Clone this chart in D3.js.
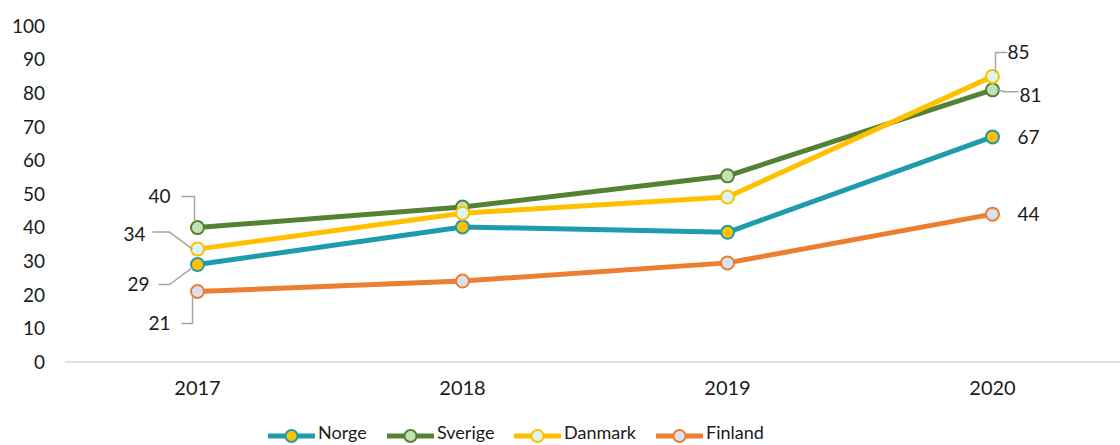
<!DOCTYPE html>
<html>
<head>
<meta charset="utf-8">
<script src="https://cdn.jsdelivr.net/npm/d3@7"></script>
<style>
  body { margin: 0; background: #fff; }
  svg { font-family: "Lato", "DejaVu Sans", sans-serif; }
</style>
</head>
<body>
<div id="chart"></div>
<script>
// data
var years = ["2017", "2018", "2019", "2020"];
var yTicks = [0, 10, 20, 30, 40, 50, 60, 70, 80, 90, 100];
var seriesNames = ["Norge", "Sverige", "Danmark", "Finland"];
var norge = [29, 40.2, 38.6, 67];
var sverige = [40, 46.1, 55.4, 81];
var danmark = [33.6, 44.3, 49.1, 85];
var finland = [21, 24.1, 29.5, 44];

var lineColors = ["#1f9bae", "#548235", "#ffc000", "#ed7d31"];
var dotColors = ["#ffc000", "#c5e0b4", "#ddf3f8", "#d9e1f2"];

var allSeries = [norge, sverige, danmark, finland];

var width = 1120, height = 445;
var svg = d3.select("#chart").append("svg").attr("width", width).attr("height", height);

var x = d3.scaleBand().domain(years).range([65, 1125]);
var y = d3.scaleLinear().domain([0, 100]).range([362, 26]);

// y tick labels
svg.selectAll(".ytick").data(yTicks).enter().append("text")
    .attr("x", 45)
    .attr("y", function (d) { return y(d); })
    .attr("dy", "0.36em")
    .attr("text-anchor", "end")
    .style("font-size", "19px")
    .style("fill", "#1a1a1a")
    .text(function (d) { return d; });

// baseline
svg.append("line")
    .attr("x1", 65).attr("x2", 1120)
    .attr("y1", y(0)).attr("y2", y(0))
    .style("stroke", "#d9d9d9")
    .style("stroke-width", 1.5);

// x labels
svg.selectAll(".xtick").data(years).enter().append("text")
    .attr("x", function (d) { return x(d) + x.bandwidth() / 2; })
    .attr("y", 395)
    .attr("text-anchor", "middle")
    .style("font-size", "20px")
    .style("fill", "#1a1a1a")
    .text(function (d) { return d; });

var cx = function (i) { return x(years[i]) + x.bandwidth() / 2; };

var line = d3.line()
    .x(function (d, i) { return cx(i); })
    .y(function (d) { return y(d); });

// lines then markers
var g = svg.selectAll(".series").data(allSeries).enter().append("g");

g.append("path")
    .attr("d", function (d) { return line(d); })
    .style("fill", "none")
    .style("stroke", function (d, i) { return lineColors[i]; })
    .style("stroke-width", 5)
    .style("stroke-linejoin", "round");

g.each(function (d, si) {
    d3.select(this).selectAll("circle").data(d).enter().append("circle")
        .attr("cx", function (v, i) { return cx(i); })
        .attr("cy", function (v) { return y(v); })
        .attr("r", 6.5)
        .style("fill", dotColors[si])
        .style("stroke", lineColors[si])
        .style("stroke-width", 2);
});

// data labels with leader lines
var labels = [
    { s: 1, i: 0, text: "40", lx: -38, ly: -31, leader: [[-16, -31], [-3, -31], [-3, -6]] },
    { s: 2, i: 0, text: "34", lx: -63, ly: -15, leader: [[-45, -17], [-28, -17], [-5, 0]] },
    { s: 0, i: 0, text: "29", lx: -59, ly: 20, leader: [[-39, 20], [-28, 20], [-5, 3]] },
    { s: 3, i: 0, text: "21", lx: -38, ly: 32, leader: [[-16, 32], [-5, 32], [-5, 5]] },
    { s: 2, i: 3, text: "85", lx: 26, ly: -24, leader: [[15, -24], [3, -24], [3, -4]] },
    { s: 1, i: 3, text: "81", lx: 38, ly: 5, leader: [[26, 2], [12, 2], [4, 0]] },
    { s: 0, i: 3, text: "67", lx: 36, ly: 0, leader: null },
    { s: 3, i: 3, text: "44", lx: 36, ly: 0, leader: null }
];

labels.forEach(function (l) {
    var px = cx(l.i), py = y(allSeries[l.s][l.i]);
    if (l.leader) {
        svg.append("path")
            .attr("d", d3.line()(l.leader.map(function (p) { return [px + p[0], py + p[1]]; })))
            .style("fill", "none")
            .style("stroke", "#a6a6a6")
            .style("stroke-width", 1.5);
    }
    svg.append("text")
        .attr("x", px + l.lx)
        .attr("y", py + l.ly)
        .attr("dy", "0.36em")
        .attr("text-anchor", "middle")
        .style("font-size", "19px")
        .style("fill", "#1a1a1a")
        .text(l.text);
});

// legend
var legendX = [268, 387, 514, 656];
var leg = svg.selectAll(".legend").data(seriesNames).enter().append("g")
    .attr("transform", function (d, i) { return "translate(" + legendX[i] + "," + 436 + ")"; });

leg.append("line")
    .attr("x1", 0).attr("x2", 47)
    .style("stroke", function (d, i) { return lineColors[i]; })
    .style("stroke-width", 5);

leg.append("circle")
    .attr("cx", 23.5).attr("r", 6)
    .style("fill", function (d, i) { return dotColors[i]; })
    .style("stroke", function (d, i) { return lineColors[i]; })
    .style("stroke-width", 2);

leg.append("text")
    .attr("x", 50)
    .attr("y", 3)
    .style("font-size", "18px")
    .style("fill", "#1a1a1a")
    .text(function (d) { return d; });
</script>
</body>
</html>
